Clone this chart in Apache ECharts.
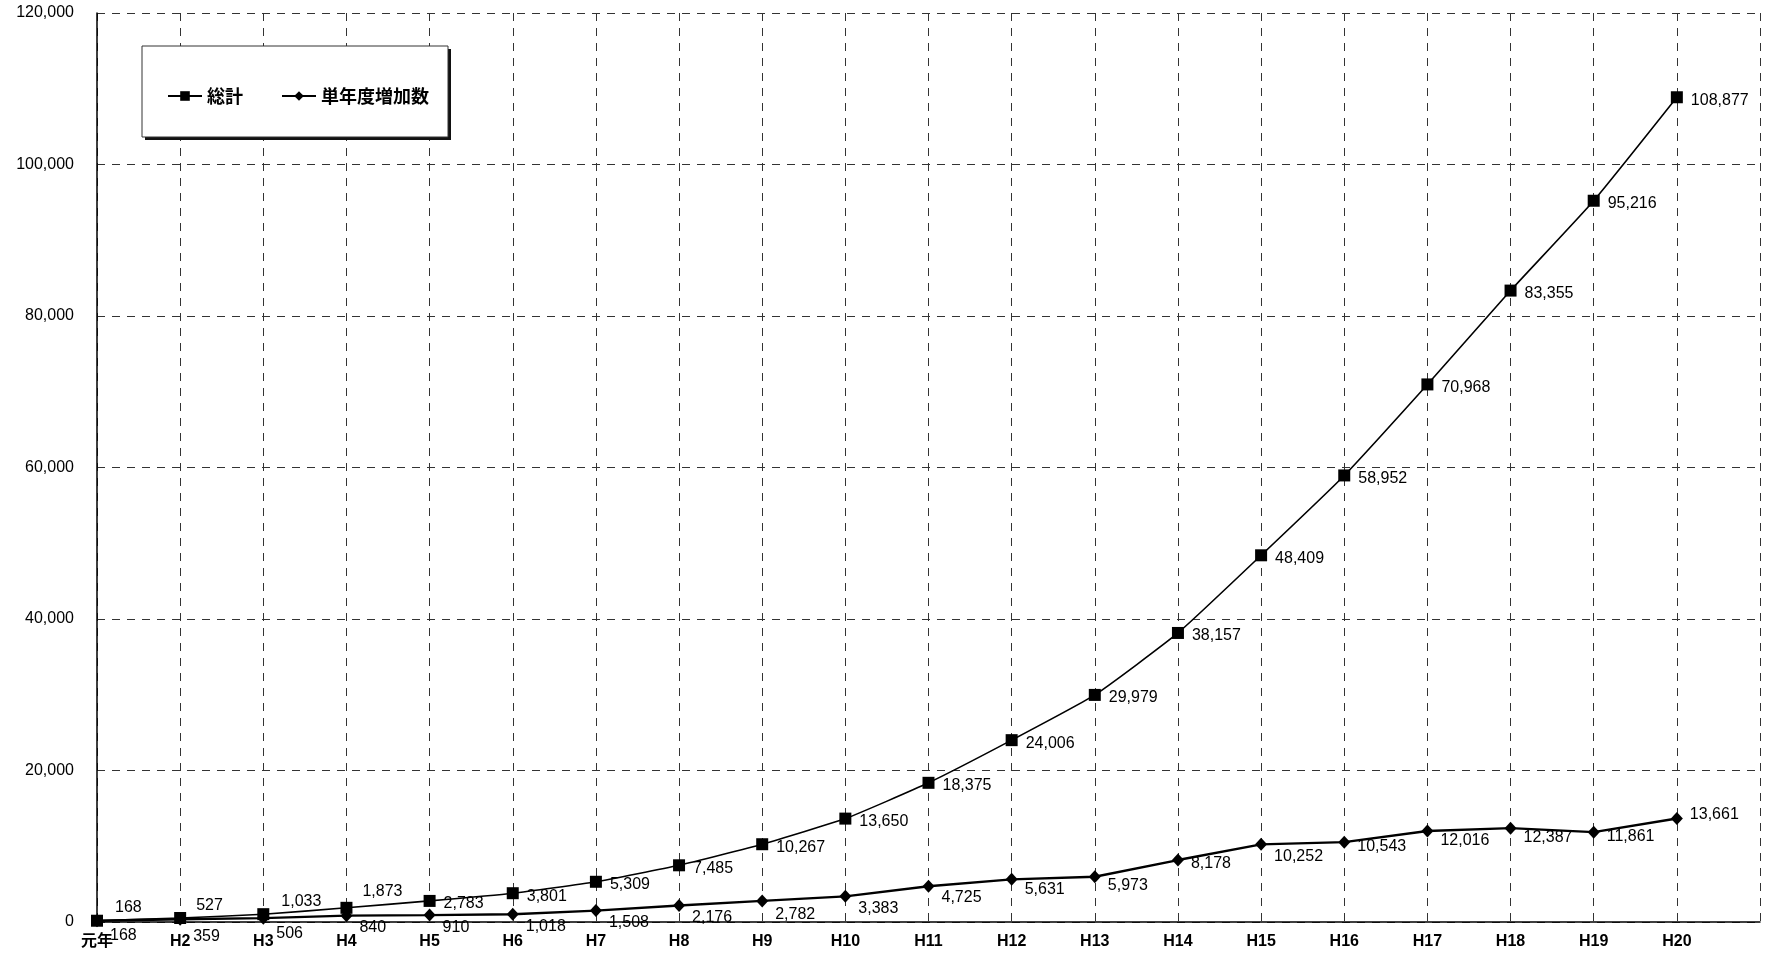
<!DOCTYPE html>
<html><head><meta charset="utf-8">
<script src="https://cdn.jsdelivr.net/npm/echarts@6/dist/echarts.min.js"></script>
<style>html,body{margin:0;padding:0;background:#fff}#c{width:1769px;height:954px}</style>
</head><body><div id="c"></div>
<script>
const categories = ['元年','H2','H3','H4','H5','H6','H7','H8','H9','H10','H11','H12','H13','H14','H15','H16','H17','H18','H19','H20'];
const totalValues = [168,527,1033,1873,2783,3801,5309,7485,10267,13650,18375,24006,29979,38157,48409,58952,70968,83355,95216,108877];
const yearlyValues = [168,359,506,840,910,1018,1508,2176,2782,3383,4725,5631,5973,8178,10252,10543,12016,12387,11861,13661];
const seriesNames = ['総計','単年度増加数'];
const yTicks = [0,20000,40000,60000,80000,100000,120000];

// label placement tweaks (styling only)
const totalLabelOffsets = [[8,-13],[6,-12],[8,-13],[6,-16]];
const yearlyLabelDy = [15,17,15,12,12,12,12,12,14,12,11,10,9,4,12,4,10,9,4,-4];

const font = '"Liberation Sans", Arial, "Noto Sans CJK JP", sans-serif';
const jpFont = '"Noto Sans CJK JP", "Liberation Sans", sans-serif';
const fmt = v => v.toLocaleString('en-US');
const chart = echarts.init(document.getElementById('c'));

const totalData = totalValues.map((v, i) => ({
  value: v,
  label: {offset: totalLabelOffsets[i] || [4, 3]}
}));
const yearlyData = yearlyValues.map((v, i) => ({
  value: v,
  label: {offset: [3, yearlyLabelDy[i]]}
}));

chart.setOption({
  backgroundColor: '#fff',
  animation: false,
  grid: {left: 97, right: 9, top: 13, bottom: 32, containLabel: false},
  graphic: [{
    type: 'rect', shape: {x: 145, y: 49, width: 306, height: 91},
    style: {fill: '#111'}, z: 9
  },{
    type: 'rect', shape: {x: 142, y: 46, width: 306, height: 91},
    style: {fill: '#fff', stroke: '#333', lineWidth: 1}, z: 10
  }],
  legend: {
    left: 162, top: 82, itemGap: 38, itemWidth: 34, itemHeight: 12, z: 20,
    textStyle: {fontFamily: jpFont, fontSize: 18, color: '#000', fontWeight: 'bold'},
    data: seriesNames
  },
  xAxis: {
    type: 'category', data: categories, boundaryGap: false, max: 20,
    axisLine: {lineStyle: {color: '#000', width: 1.5}},
    axisTick: {show: false},
    axisLabel: {fontFamily: font, fontSize: 16, color: '#000', fontWeight: 'bold', margin: 12},
    splitLine: {show: true, lineStyle: {type: [8, 7], color: '#333', width: 1}}
  },
  yAxis: {
    type: 'value', min: yTicks[0], max: yTicks[yTicks.length - 1], interval: yTicks[1] - yTicks[0],
    axisLine: {show: true, lineStyle: {color: '#000', width: 1.5}},
    axisTick: {show: false},
    axisLabel: {fontFamily: font, fontSize: 16, color: '#000', margin: 23, formatter: v => fmt(v)},
    splitLine: {show: true, lineStyle: {type: [8, 7], color: '#333', width: 1}}
  },
  series: [{
    name: seriesNames[0], type: 'line', data: totalData,
    symbol: 'rect', symbolSize: 12, smooth: 0.15,
    lineStyle: {color: '#000', width: 1.6}, itemStyle: {color: '#000'},
    label: {show: true, position: 'right', distance: 4, fontFamily: font, fontSize: 16, color: '#000',
      formatter: p => fmt(p.value)}
  },{
    name: seriesNames[1], type: 'line', data: yearlyData,
    symbol: 'diamond', symbolSize: [12, 13],
    lineStyle: {color: '#000', width: 2.4}, itemStyle: {color: '#000'},
    label: {show: true, position: 'right', distance: 4, fontFamily: font, fontSize: 16, color: '#000',
      formatter: p => fmt(p.value)}
  }]
});
</script></body></html>
